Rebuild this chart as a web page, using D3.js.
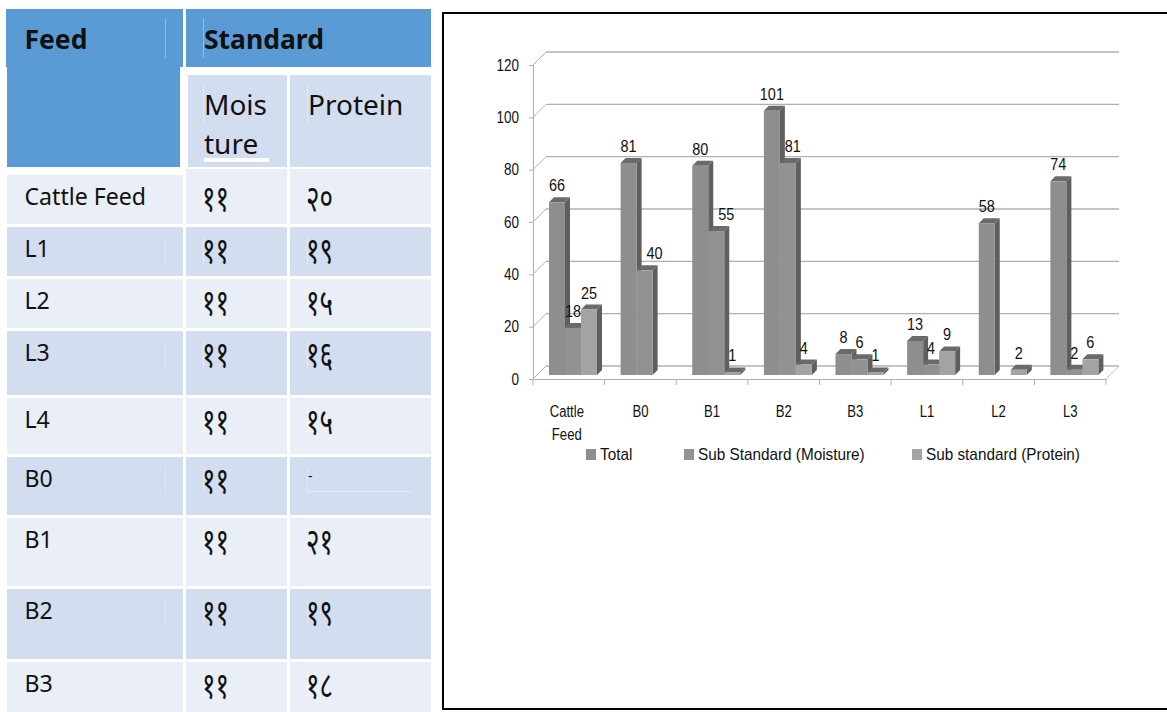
<!DOCTYPE html>
<html>
<head>
<meta charset="utf-8">
<script src="https://cdn.jsdelivr.net/npm/d3@7"></script>
<style>
  html, body { margin: 0; padding: 0; background: #fff; overflow: hidden; }
  svg { display: block; }
  .tbl { font-family: "Noto Sans", "Open Sans", sans-serif; fill: #111; }
  .cht { font-family: "Liberation Sans", sans-serif; fill: #111; }
</style>
</head>
<body>
<script>
"use strict";

// table contents
const feedNames = ["Cattle Feed", "L1", "L2", "L3", "L4", "B0", "B1", "B2", "B3"];
const moistureStd = ["११", "११", "११", "११", "११", "११", "११", "११", "११"];
const proteinStd = ["२०", "१९", "१५", "१६", "१५", "-", "२१", "१९", "१८"];

// chart values
const categories = ["Cattle Feed", "B0", "B1", "B2", "B3", "L1", "L2", "L3"];
const total = [66, 81, 80, 101, 8, 13, 58, 74];
const subMoisture = [18, 40, 55, 81, 6, 4, null, 2];
const subProtein = [25, null, 1, 4, 1, 9, 2, 6];
const seriesNames = ["Total", "Sub Standard (Moisture)", "Sub standard (Protein)"];
const yTicks = [0, 20, 40, 60, 80, 100, 120];

// row tops and bottoms in the table
const rowTop = [169, 227, 279, 331, 398, 457, 518, 589, 662];
const rowBottom = [224, 276, 328, 395, 454, 515, 586, 659, 712];

const svg = d3.select("body").append("svg")
  .attr("width", 1167)
  .attr("height", 712);

drawTable();
drawChart();

// the chart text in the picture is squeezed sideways
function squeeze(sel, k) {
  sel.each(function() {
    const len = this.getComputedTextLength();
    d3.select(this)
      .attr("textLength", len * k)
      .attr("lengthAdjust", "spacingAndGlyphs");
  });
}

function drawTable() {
  const g = svg.append("g");
  const blue = "#5b9bd5", mid = "#d2deef", light = "#e9eef7";

  function cell(x0, y0, x1, y1, fill) {
    g.append("rect").attr("x", x0).attr("y", y0)
      .attr("width", x1 - x0).attr("height", y1 - y0).attr("fill", fill);
  }
  function label(x, y, str, size, weight) {
    return g.append("text").attr("class", "tbl").attr("x", x).attr("y", y)
      .attr("font-size", size).attr("font-weight", weight || 400).text(str);
  }
  function edge(x, y0, y1, color) {
    cell(x, y0, x + 0.7, y1, color);
  }

  cell(6, 9, 183, 67, blue);
  cell(7, 67, 180, 167, blue);
  cell(186, 9, 431, 67, blue);
  cell(188, 75, 287, 167, mid);
  cell(290, 75, 431, 167, mid);

  edge(165, 19, 58, "#a9c9e8");
  edge(203, 19, 58, "#a9c9e8");
  edge(203, 85, 123, "#e6ecf6");
  edge(307, 85, 123, "#e6ecf6");

  label(24.5, 49, "Feed", 26.5, 700);
  label(204, 49, "Standard", 26.5, 700);
  label(204, 115, "Mois", 28);
  label(204, 154, "ture", 28);
  label(308, 115, "Protein", 28);
  cell(204, 158, 269, 162, "#fff");

  feedNames.forEach((name, i) => {
    const fill = i % 2 === 0 ? light : mid;
    const edgeFill = i % 2 === 0 ? "#f3f6fb" : "#e6ecf6";
    const top = rowTop[i], bottom = rowBottom[i];
    const shift = i === 0 ? 6 : 0;
    cell(7, i === 0 ? 175 : top, 183, bottom, fill);
    cell(186, top, 287, bottom, fill);
    cell(290, top, 431, bottom, fill);
    edge(165, top + 10 + shift, top + 36 + shift, edgeFill);
    edge(203, top + 10 + shift, top + 36 + shift, edgeFill);
    edge(307, top + 10 + shift, top + 36 + shift, edgeFill);
    label(24.5, top + 30 + shift, name, 23.1);
    squeeze(label(202, top + 36 + shift, moistureStd[i], 36), 0.72);
    if (proteinStd[i] === "-") {
      label(308, top + 24, proteinStd[i], 14);
    } else {
      squeeze(label(306, top + 36 + shift, proteinStd[i], 36), 0.72);
    }
  });
  cell(308, 491, 413, 491.6, "#e9eef7");
}

function drawChart() {
  svg.append("rect")
    .attr("x", 443).attr("y", 13)
    .attr("width", 730).attr("height", 696)
    .attr("fill", "#fff").attr("stroke", "#000").attr("stroke-width", 2);

  const x = d3.scaleBand().domain(categories).range([533, 1106]);
  const y = d3.scaleLinear().domain([0, 120]).range([379, 65]);
  const inner = d3.scaleBand().domain(seriesNames)
    .range([16, 64]);

  const depth = 13, barDepth = 5, barLift = 4;
  const gridColor = "#b0b0b0";

  const grid = svg.append("g");
  yTicks.forEach(t => {
    grid.append("line")
      .attr("x1", x.range()[0] + depth).attr("x2", x.range()[1] + depth)
      .attr("y1", y(t) - depth).attr("y2", y(t) - depth)
      .attr("stroke", gridColor).attr("stroke-width", 1.4);
    grid.append("line")
      .attr("x1", x.range()[0]).attr("x2", x.range()[0] + depth)
      .attr("y1", y(t)).attr("y2", y(t) - depth)
      .attr("stroke", gridColor);
  });
  // floor edge on the right
  grid.append("line")
    .attr("x1", x.range()[1]).attr("x2", x.range()[1] + depth)
    .attr("y1", y(0)).attr("y2", y(0) - depth)
    .attr("stroke", "#c4c4c4");

  const yAxis = svg.append("g")
    .attr("transform", `translate(${x.range()[0]},0)`)
    .call(d3.axisLeft(y).tickValues(yTicks).tickSize(4).tickPadding(10));
  yAxis.select(".domain").attr("stroke", gridColor);
  yAxis.selectAll(".tick line").attr("stroke", gridColor);
  yAxis.selectAll("text").attr("class", "cht").attr("font-size", 16)
    .attr("font-family", null).attr("fill", null)
    .call(squeeze, 0.84);

  const xAxis = svg.append("g")
    .attr("transform", `translate(0,${y(0)})`)
    .call(d3.axisBottom(x).tickValues([]).tickSizeOuter(0));
  xAxis.select(".domain").attr("stroke", gridColor);

  // category boundary ticks
  svg.append("g").selectAll("line")
    .data(categories)
    .enter()
    .append("line")
    .attr("x1", d => x(d) + x.bandwidth())
    .attr("x2", d => x(d) + x.bandwidth())
    .attr("y1", y(0))
    .attr("y2", y(0) + 6)
    .attr("stroke", gridColor);
  svg.append("line")
    .attr("x1", x.range()[0]).attr("x2", x.range()[0])
    .attr("y1", y(0)).attr("y2", y(0) + 6)
    .attr("stroke", gridColor);

  const catLabels = svg.append("g");
  categories.forEach(c => {
    c.split(" ").forEach((part, i) => {
      catLabels.append("text")
        .attr("class", "cht")
        .attr("x", x(c) + x.bandwidth() / 2 - (c.includes(" ") ? 2 : 0))
        .attr("y", y(0) + 38 + i * 23)
        .attr("text-anchor", "middle")
        .attr("font-size", 16)
        .text(part)
        .call(squeeze, 0.82);
    });
  });

  const seriesData = [total, subMoisture, subProtein];
  const fronts = ["#8e8e8e", "#929292", "#a3a3a3"];
  const bars = svg.append("g");
  const labels = [];
  // moisture labels that sit beside the bar instead of over it
  const moistureNudge = { 1: 10, 2: 10, 3: 5 };

  categories.forEach((c, ci) => {
    seriesData.forEach((values, si) => {
      const v = values[ci];
      if (v === null) return;
      const bx = x(c) + inner(seriesNames[si]);
      const w = inner.bandwidth();
      const base = y(0) - barLift;
      const top = y(v) - barLift;

      bars.append("path")
        .attr("d", d3.line()([[bx + w, top], [bx + w + barDepth, top - barDepth],
          [bx + w + barDepth, base - barDepth], [bx + w, base]]))
        .attr("fill", "#5f5f5f");
      bars.append("path")
        .attr("d", d3.line()([[bx, top], [bx + barDepth, top - barDepth],
          [bx + w + barDepth, top - barDepth], [bx + w, top]]))
        .attr("fill", "#6a6a6a");
      bars.append("rect")
        .attr("x", bx).attr("y", top)
        .attr("width", w).attr("height", base - top)
        .attr("fill", fronts[si]);

      const nudge = si === 1 ? (moistureNudge[ci] || 0) : 0;
      labels.push({ x: bx + w / 2 + nudge, y: top - 11, v: v });
    });
  });

  svg.append("g").selectAll("text")
    .data(labels)
    .enter()
    .append("text")
    .attr("class", "cht")
    .attr("x", d => d.x)
    .attr("y", d => d.y)
    .attr("text-anchor", "middle")
    .attr("font-size", 17)
    .text(d => d.v)
    .call(squeeze, 0.85);

  // legend
  const legendX = d3.scaleOrdinal().domain(seriesNames).range([586, 684, 912]);
  const legendFill = d3.scaleOrdinal().domain(seriesNames).range(fronts);
  const legend = svg.append("g").selectAll("g")
    .data(seriesNames)
    .enter()
    .append("g")
    .attr("transform", d => `translate(${legendX(d)},449)`);
  legend.append("rect")
    .attr("width", 10).attr("height", 11)
    .attr("fill", d => legendFill(d));
  legend.append("text")
    .attr("class", "cht")
    .attr("x", 14).attr("y", 11)
    .attr("font-size", 17)
    .text(d => d)
    .call(squeeze, 0.9);
}
</script>
</body>
</html>
